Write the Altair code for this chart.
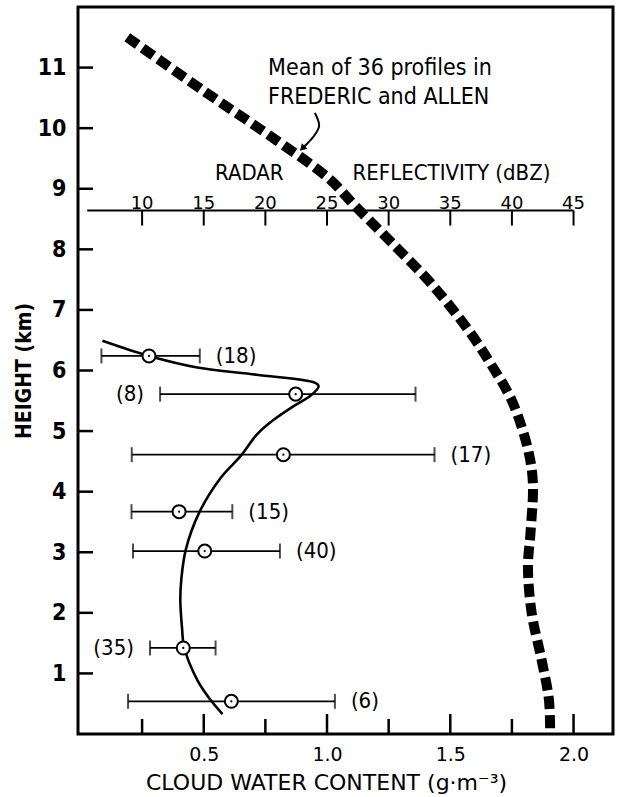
import altair as alt
import pandas as pd

# Mean radar reflectivity profile (dBZ) against height (km)
refl_height = [11.5, 10.6, 9.8, 9.16, 8.71, 8.06, 7.40, 6.63, 6.07, 5.5, 4.70, 4.15, 3.3, 2.77, 2.0, 1.23, 0.57, 0.0]
refl_dbz = [8.8, 15.1, 20.9, 25.2, 27.3, 30.5, 33.6, 36.6, 38.4, 40.0, 41.3, 41.7, 41.5, 41.3, 41.6, 42.4, 43.0, 43.1]

# Fitted cloud water content curve
fit_cwc = [0.089, 0.278, 0.474, 0.714, 0.950, 0.966, 0.935, 0.860, 0.785, 0.717, 0.650, 0.569, 0.481, 0.427, 0.409, 0.405, 0.412, 0.420, 0.474, 0.528, 0.576]
fit_height = [6.49, 6.24, 6.05, 5.93, 5.80, 5.74, 5.59, 5.40, 5.19, 4.95, 4.59, 4.23, 3.65, 3.04, 2.55, 2.2, 1.75, 1.44, 0.89, 0.56, 0.33]

# Observed mean cloud water content with ranges and sample counts
obs_cwc = [0.278, 0.873, 0.823, 0.400, 0.504, 0.417, 0.612]
obs_height = [6.24, 5.61, 4.61, 3.67, 3.02, 1.42, 0.54]
obs_low = [0.085, 0.323, 0.208, 0.207, 0.213, 0.282, 0.193]
obs_high = [0.484, 1.359, 1.436, 0.616, 0.809, 0.548, 1.032]
obs_count = [18, 8, 17, 15, 40, 35, 6]
label_side = ["right", "left", "right", "right", "right", "left", "right"]

# Axis tick values
height_ticks = [1, 2, 3, 4, 5, 6, 7, 8, 9, 10, 11]
cwc_major = [0.5, 1.0, 1.5, 2.0]
cwc_minor = [0.25, 0.75, 1.25, 1.75]
dbz_ticks = [10, 15, 20, 25, 30, 35, 40, 45]
dbz_axis_height = 8.64
dbz_axis_start = 5.55

# Annotation
note_lines = ["Mean of 36 profiles in", "FREDERIC and ALLEN"]
note_height = [10.99, 10.51]
note_cwc = 0.761
arrow_cwc = [0.951, 0.968, 0.947, 0.911, 0.903]
arrow_height = [10.25, 10.04, 9.87, 9.71, 9.68]

W, H = 535, 727
COND = "DejaVu Sans Condensed, DejaVu Sans"
PLAIN = "DejaVu Sans"

xscale = alt.Scale(domain=[-0.01, 2.16], nice=False, zero=False)
yscale = alt.Scale(domain=[0, 12], nice=False, zero=False)

xaxis = alt.Axis(
    values=cwc_major, format=".1f", ticks=False, domain=False, grid=False,
    labelFont=PLAIN, labelFontSize=19, labelColor="black", labelPadding=11,
    title="CLOUD WATER CONTENT (g·m⁻³)", titleFont=PLAIN, titleFontSize=22,
    titleFontWeight="normal", titleColor="black", titleX=248, titleAlign="center",
    titlePadding=8,
)
yaxis = alt.Axis(
    values=height_ticks, format="d", ticks=False, domain=False, grid=False,
    labelFont=COND, labelFontSize=23, labelFontWeight="bold", labelColor="black",
    labelPadding=12, title="HEIGHT (km)", titleFont=COND, titleFontSize=21,
    titleFontWeight="bold", titleColor="black", titlePadding=3,
)


def X(field):
    return alt.X(field, type="quantitative", scale=xscale, axis=xaxis)


def Y(field):
    return alt.Y(field, type="quantitative", scale=yscale, axis=yaxis)


obs = pd.DataFrame({
    "cwc": obs_cwc, "height": obs_height, "lo": obs_low, "hi": obs_high,
    "label": [f"({n})" for n in obs_count], "side": label_side,
})
fit = pd.DataFrame({"cwc": fit_cwc, "height": fit_height, "order": list(range(len(fit_cwc)))})
refl = pd.DataFrame({"dbz": refl_dbz, "height": refl_height, "order": list(range(len(refl_dbz)))})

# reflectivity maps onto the cloud-water axis: 10 dBZ at 0.25, 45 dBZ at 2.0
to_cwc = "(datum.dbz - 5) / 20"

refl_line = alt.Chart(refl).transform_calculate(cwc=to_cwc).mark_line(
    color="black", strokeWidth=10, strokeDash=[13, 6], strokeCap="butt",
    interpolate="catmull-rom"
).encode(x=X("cwc"), y=Y("height"), order="order:Q")

fit_line = alt.Chart(fit).mark_line(
    color="black", strokeWidth=2.6, interpolate="catmull-rom"
).encode(x=X("cwc"), y=Y("height"), order="order:Q")

err_bars = alt.Chart(obs).mark_rule(color="black", strokeWidth=1.8).encode(
    x=X("lo"), x2="hi", y=Y("height")
)
err_lo = alt.Chart(obs).mark_tick(orient="vertical", color="black", size=15, thickness=2).encode(
    x=X("lo"), y=Y("height")
)
err_hi = alt.Chart(obs).mark_tick(orient="vertical", color="black", size=15, thickness=2).encode(
    x=X("hi"), y=Y("height")
)
obs_ring = alt.Chart(obs).mark_point(
    shape="circle", size=170, filled=False, fill="white", fillOpacity=1,
    stroke="black", strokeWidth=2, opacity=1
).encode(x=X("cwc"), y=Y("height"))
obs_dot = alt.Chart(obs).mark_point(
    shape="circle", size=5, filled=True, color="black", opacity=1
).encode(x=X("cwc"), y=Y("height"))

right_labels = alt.Chart(obs).transform_filter("datum.side == 'right'").mark_text(
    align="left", baseline="middle", dx=16, font=COND, fontSize=22, color="black"
).encode(x=X("hi"), y=Y("height"), text="label:N")
left_labels = alt.Chart(obs).transform_filter("datum.side == 'left'").mark_text(
    align="right", baseline="middle", dx=-16, font=COND, fontSize=22, color="black"
).encode(x=X("lo"), y=Y("height"), text="label:N")

# inward ticks of the frame
y_ticks = alt.Chart(pd.DataFrame({"height": height_ticks})).mark_rule(
    color="black", strokeWidth=2.5
).encode(y=Y("height"), x=alt.value(0), x2=alt.value(15))
x_major = alt.Chart(pd.DataFrame({"cwc": cwc_major})).mark_rule(
    color="black", strokeWidth=2.5
).encode(x=X("cwc"), y=alt.value(H), y2=alt.value(H - 20))
x_minor = alt.Chart(pd.DataFrame({"cwc": cwc_minor})).mark_rule(
    color="black", strokeWidth=2.5
).encode(x=X("cwc"), y=alt.value(H), y2=alt.value(H - 15))

# reflectivity axis drawn inside the plot
dbz_line = alt.Chart(pd.DataFrame({
    "d0": [dbz_axis_start], "d1": [dbz_ticks[-1]], "height": [dbz_axis_height]
})).transform_calculate(
    c0="(datum.d0 - 5) / 20", c1="(datum.d1 - 5) / 20"
).mark_rule(color="black", strokeWidth=2).encode(x=X("c0"), x2="c1", y=Y("height"))

dbz_df = pd.DataFrame({"dbz": dbz_ticks, "height": [dbz_axis_height] * len(dbz_ticks)})
dbz_tick_marks = alt.Chart(dbz_df).transform_calculate(cwc=to_cwc).mark_rule(
    color="black", strokeWidth=2, y2Offset=15
).encode(x=X("cwc"), y=Y("height"), y2="height:Q")
dbz_labels = alt.Chart(dbz_df).transform_calculate(cwc=to_cwc).mark_text(
    baseline="alphabetic", align="center", dy=-2, font=PLAIN, fontSize=18, color="black"
).encode(x=X("cwc"), y=Y("height"), text=alt.Text("dbz:Q", format="d"))

dbz_title = alt.Chart(pd.DataFrame({
    "text": ["RADAR", "REFLECTIVITY (dBZ)"], "dbz": [18.7, 35.1], "height": [9.26, 9.26]
})).transform_calculate(cwc=to_cwc).mark_text(
    baseline="middle", align="center", font=COND, fontSize=22, color="black"
).encode(x=X("cwc"), y=Y("height"), text="text:N")

note = alt.Chart(pd.DataFrame({
    "text": note_lines, "height": note_height, "cwc": [note_cwc] * len(note_lines)
})).mark_text(
    baseline="middle", align="left", font=COND, fontSize=23, color="black"
).encode(x=X("cwc"), y=Y("height"), text="text:N")

arrow_df = pd.DataFrame({"cwc": arrow_cwc, "height": arrow_height, "order": list(range(len(arrow_cwc)))})
arrow_line = alt.Chart(arrow_df).mark_line(
    color="black", strokeWidth=2, interpolate="catmull-rom"
).encode(x=X("cwc"), y=Y("height"), order="order:Q")
arrow_head = alt.Chart(arrow_df.tail(1)).mark_point(
    shape="triangle", size=60, filled=True, color="black", opacity=1, angle=225
).encode(x=X("cwc"), y=Y("height"))

chart = alt.layer(
    y_ticks, x_major, x_minor,
    dbz_line, dbz_tick_marks, dbz_labels, dbz_title,
    refl_line,
    err_bars, err_lo, err_hi, fit_line, obs_ring, obs_dot,
    right_labels, left_labels,
    note, arrow_line, arrow_head,
).properties(
    width=W, height=H,
    padding={"left": 78, "top": 7, "right": 4, "bottom": 63},
    autosize=alt.AutoSizeParams(type="none"),
    background="white",
).configure_view(
    stroke="black", strokeWidth=3
)

chart.save("out.html", embed_options={"renderer": "svg", "actions": False})
